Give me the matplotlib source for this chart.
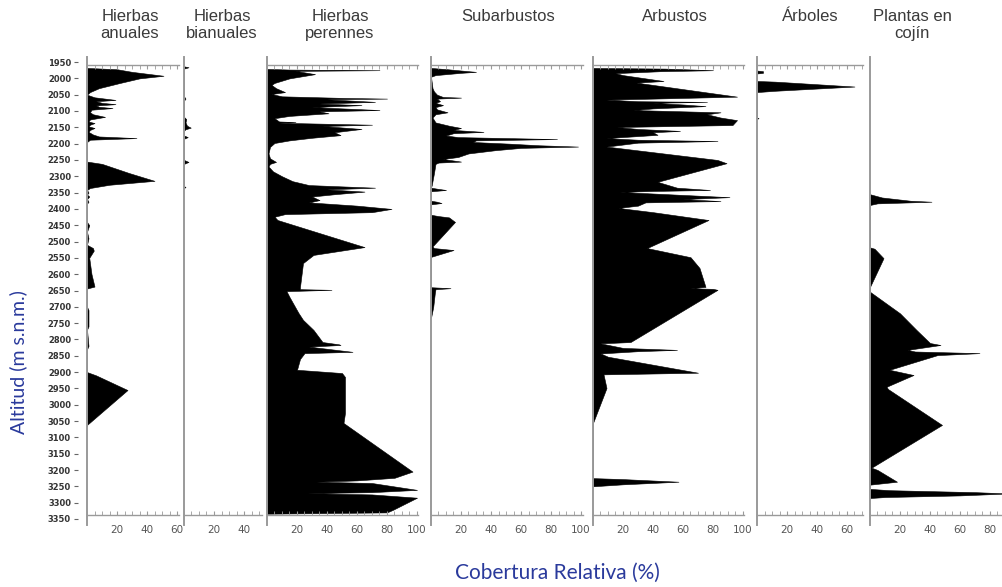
import numpy as np
import matplotlib
matplotlib.use("Agg")
import matplotlib.pyplot as plt
from matplotlib.lines import Line2D
from matplotlib.ticker import MultipleLocator, FixedLocator

W, H = 1003, 587

titles = ["Hierbas\nanuales", "Hierbas\nbianuales", "Hierbas\nperennes", "Subarbustos",
          "Arbustos", "Árboles", "Plantas en\ncojín"]

# hierbas anuales
anu_alt = [1968, 1972, 1980, 1992, 2000, 2014, 2030, 2042, 2050, 2058, 2066, 2070, 2075, 2079,
           2083, 2087, 2091, 2096, 2104, 2110, 2118, 2126, 2132, 2137, 2142, 2147, 2152, 2158,
           2164, 2172, 2178, 2183, 2188, 2195, 2255, 2262, 2290, 2314, 2326, 2336, 2342, 2350,
           2356, 2362, 2370, 2378, 2384, 2440, 2450, 2470, 2490, 2510, 2520, 2528, 2550, 2600,
           2638, 2644, 2700, 2710, 2760, 2770, 2820, 2830, 2900, 2910, 2955, 3062, 3066]
anu_val = [0, 20, 30, 51, 35, 22, 8, 2, 0, 5, 19, 6, 10, 19,
           6, 8, 17, 3, 2, 4, 12, 2, 1, 5, 2, 1, 5, 2,
           1, 4, 8, 33, 2, 0, 0, 10, 28, 45, 15, 2, 0, 1,
           0, 1.5, 0, 1, 0, 0, 1.5, 0, 1, 0, 4, 4.5, 1.5, 3,
           5, 0, 0, 1, 1, 0, 1, 0, 0, 6, 27, 0, 0]

# hierbas bianuales
bia_alt = [1963, 1966, 1970, 2055, 2062, 2068, 2118, 2125, 2135, 2145, 2151, 2156, 2160, 2175,
           2180, 2185, 2250, 2256, 2262, 2330, 2333, 2336]
bia_val = [0, 3, 0, 0, 1, 0, 0, 1.5, 1, 2, 4.5, 1, 0, 0,
           2.5, 0, 0, 3, 0, 0, 1, 0]

# hierbas perennes
per_alt = [1971, 1973, 1975, 1977, 1987, 2000, 2014, 2020, 2030, 2042, 2048, 2055, 2060, 2062,
           2064, 2072, 2077, 2082, 2088, 2097, 2101, 2107, 2115, 2122, 2132, 2134, 2136, 2142,
           2146, 2155, 2165, 2174, 2182, 2190, 2198, 2210, 2230, 2245, 2256, 2262, 2270, 2285,
           2300, 2315, 2327, 2335, 2340, 2347, 2355, 2362, 2373, 2380, 2390, 2400, 2410, 2416,
           2424, 2434, 2517, 2541, 2566, 2639, 2646, 2648, 2652, 2670, 2719, 2740, 2771, 2808,
           2815, 2817, 2822, 2838, 2842, 2860, 2893, 2903, 2915, 3025, 3056, 3205, 3224, 3232,
           3236, 3240, 3261, 3268, 3271, 3275, 3285, 3322, 3330, 3334]
per_val = [0, 15, 75, 19, 32, 15, 5, 3, 6, 12, 3, 10, 52, 80,
           40, 72, 35, 63, 30, 75, 35, 41, 15, 5, 8, 19, 8, 70,
           37, 63, 45, 49, 30, 15, 5, 2, 1, 2, 6, 2, 1, 4,
           10, 17, 28, 72, 40, 65, 45, 30, 35, 28, 60, 83, 70, 12,
           5, 7, 65, 31, 24, 22, 22, 43, 13, 15, 21, 24, 31, 37,
           48, 49, 28, 57, 25, 22, 20, 50, 52, 52, 51, 97, 85, 60,
           33, 70, 100, 70, 27, 70, 100, 84, 80, 0]

# subarbustos
sub_alt = [1968, 1972, 1978, 1980, 1983, 1990, 1995, 2030, 2040, 2050, 2057, 2059, 2062, 2070,
           2075, 2082, 2088, 2095, 2104, 2110, 2120, 2135, 2145, 2152, 2158, 2164, 2168, 2175,
           2180, 2186, 2190, 2195, 2200, 2205, 2209, 2213, 2220, 2230, 2241, 2247, 2255, 2258,
           2262, 2290, 2327, 2335, 2338, 2342, 2346, 2375, 2378, 2382, 2386, 2418, 2422, 2426,
           2440, 2515, 2520, 2526, 2547, 2640, 2643, 2646, 2660, 2700, 2734]
sub_val = [0, 11, 25, 30, 20, 3, 0, 1, 2, 4, 8, 20, 4, 6,
           3, 8, 3, 4, 11, 3, 1, 3, 12, 20, 15, 35, 15, 10,
           18, 84, 30, 28, 52, 72, 98, 60, 43, 25, 18, 8, 20, 5,
           3, 2, 0.5, 0, 4, 10, 0, 0, 4, 7, 0, 0, 5, 12,
           16, 1, 2, 15, 0, 0, 13, 3, 2.5, 1.5, 0]

# arbustos
arb_alt = [1968, 1970, 1975, 1978, 1984, 1990, 2000, 2008, 2013, 2056, 2062, 2065, 2070, 2072,
           2075, 2080, 2085, 2092, 2097, 2104, 2110, 2120, 2128, 2143, 2149, 2155, 2161, 2165,
           2173, 2183, 2188, 2192, 2197, 2209, 2250, 2260, 2317, 2335, 2342, 2345, 2348, 2364,
           2370, 2376, 2380, 2390, 2397, 2410, 2434, 2520, 2548, 2581, 2639, 2643, 2645, 2648,
           2808, 2812, 2826, 2832, 2836, 2843, 2853, 2902, 2907, 2949, 3056, 3225, 3228, 3236,
           3244, 3250]
arb_val = [0, 48, 80, 45, 15, 20, 35, 47, 29, 96, 40, 9, 30, 76,
           40, 60, 75, 40, 27, 85, 76, 85, 96, 93, 16, 30, 58, 40,
           43, 9, 30, 83, 30, 9, 83, 89, 43, 56, 78, 40, 18, 91,
           60, 85, 35, 30, 17, 40, 77, 36, 65, 71, 75, 65, 80, 83,
           25, 5, 20, 56, 30, 5, 10, 70, 7, 9, 0, 0, 20, 57,
           20, 0]

# arboles
arbo_alt = [1976, 1978, 1983, 1985, 2008, 2010, 2025, 2038, 2042, 2120, 2122, 2124]
arbo_val = [0, 4, 4, 0, 0, 12, 65, 12, 0, 0, 1, 0]

# plantas en cojin
coj_alt = [2355, 2365, 2375, 2378, 2383, 2388, 2518, 2522, 2551, 2639, 2654, 2720, 2771, 2811,
           2817, 2832, 2837, 2842, 2848, 2893, 2909, 2945, 2952, 3062, 3193, 3200, 3236, 3245,
           3258, 3262, 3268, 3272, 3278, 3283, 3286]
coj_val = [0, 8, 27, 41, 5, 0, 0, 3, 9, 0, 0, 20, 31, 40,
           47, 25, 30, 73, 45, 13, 29, 11, 12, 48, 1, 5, 18, 0,
           0, 13, 70, 92, 60, 10, 0]

series = [(anu_alt, anu_val), (bia_alt, bia_val), (per_alt, per_val), (sub_alt, sub_val),
          (arb_alt, arb_val), (arbo_alt, arbo_val), (coj_alt, coj_val)]

xmax = [61, 52, 101, 101, 101, 71, 100]
xticks = [[20, 40, 60], [20, 40], [20, 40, 60, 80, 100], [20, 40, 60, 80, 100],
          [20, 40, 60, 80, 100], [20, 40, 60], [20, 40, 60, 80]]
lefts_px = [87, 184, 267, 431, 593, 757, 870]
title_x_px = [130, 222, 340, 508, 675, 810, 912]
top_axis = [True, False, True, True, True, True, False]

fig = plt.figure(figsize=(W / 100, H / 100), dpi=100)
fig.patch.set_facecolor("white")

top_px, bot_px = 65, 515
y_top_alt, y_bot_alt = 1959, 3338
scale = 1.5  # px per percent
grey = "#9a9a9a"

for i in range(7):
    alt, val = series[i]
    w = xmax[i] * scale
    ax = fig.add_axes([lefts_px[i] / W, 1 - bot_px / H, w / W, (bot_px - top_px) / H])
    ax.fill_betweenx(alt, 0, val, color="black", lw=0.4, edgecolor="black")
    ax.set_xlim(0, xmax[i])
    ax.set_ylim(y_bot_alt, y_top_alt)
    ax.set_yticks([])
    for s in ["right", "left"]:
        ax.spines[s].set_visible(False)
    ax.spines["top"].set_visible(top_axis[i])
    ax.spines["top"].set_color(grey)
    ax.spines["bottom"].set_color(grey)
    ax.spines["top"].set_linewidth(1.0)
    ax.spines["bottom"].set_linewidth(1.0)
    ax.add_line(Line2D([0, 0], [-0.022, 1.018], transform=ax.transAxes, color=grey,
                       lw=1.4, clip_on=False))
    ax.xaxis.set_major_locator(FixedLocator(xticks[i]))
    ax.xaxis.set_minor_locator(MultipleLocator(5))
    ax.tick_params(axis="x", which="both", direction="in", length=3, color=grey,
                   labelsize=7.5, labelcolor="#555555", pad=7, top=top_axis[i])
    ax.set_facecolor("none")
    fig.text(title_x_px[i] / W, 1 - 9 / H, titles[i], ha="center", va="top",
             fontsize=12, color="#3a3a3a", family="Liberation Sans", linespacing=1.15)

# altitude axis
axy = fig.add_axes([78 / W, 1 - 519 / H, 0.0005, (519 - 62) / H])
axy.set_ylim(3350, 1950)
axy.set_yticks(np.arange(1950, 3351, 50))
axy.set_xticks([])
for s in ["right", "top", "bottom", "left"]:
    axy.spines[s].set_visible(False)
axy.tick_params(axis="y", direction="out", length=3, color="#666666", labelsize=6,
                labelcolor="#333333", pad=2)
for lb in axy.get_yticklabels():
    lb.set_fontweight("bold")

blue = "#2a3a9c"
fig.text(557 / W, 1 - 573 / H, "Cobertura Relativa (%)", ha="center", va="center",
         fontsize=15, color=blue, family="Lato")
fig.text(18 / W, 1 - 362 / H, "Altitud (m s.n.m.)", ha="center", va="center",
         fontsize=14, color=blue, family="Lato", rotation=90)

fig.savefig("out.png", dpi=100)
